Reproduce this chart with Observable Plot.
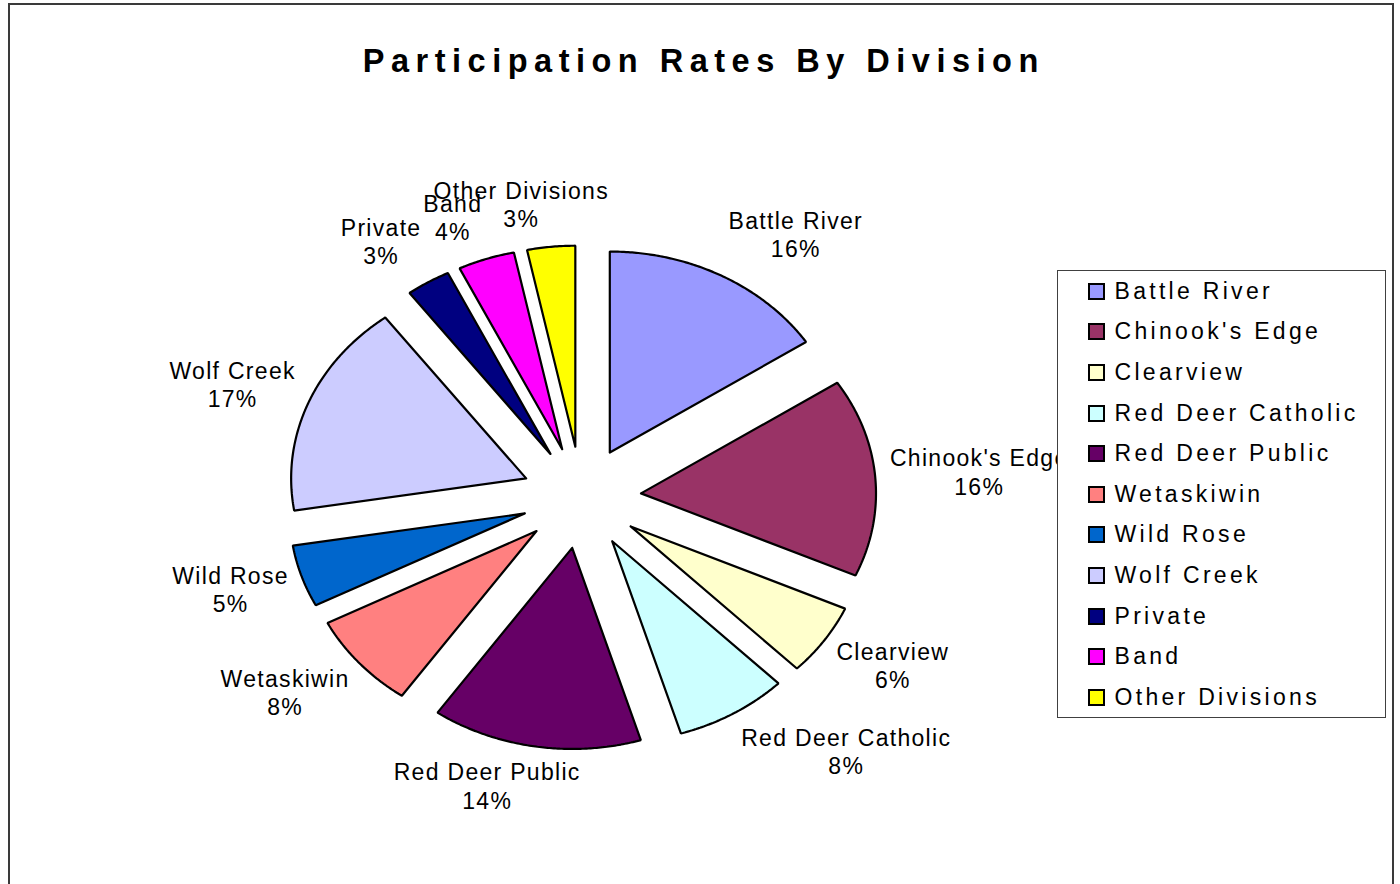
<!DOCTYPE html>
<html>
<head>
<meta charset="utf-8">
<script src="https://cdn.jsdelivr.net/npm/d3@7"></script>
<script src="https://cdn.jsdelivr.net/npm/@observablehq/plot@0.6"></script>
<style>
html,body{margin:0;padding:0;background:#fff;overflow:hidden;}
#wrap{position:relative;width:1400px;height:884px;overflow:hidden;font-family:"Liberation Sans",Arial,sans-serif;background:#fff;}
#chart{position:absolute;left:0;top:0;}
#chart svg text{letter-spacing:1.3px;}
#frame{position:absolute;left:8px;top:3px;width:1386px;height:940px;border:2px solid #3a3a3a;box-sizing:border-box;pointer-events:none;}
#legend{position:absolute;left:1057px;top:270px;width:329px;height:448px;box-sizing:border-box;border:1.5px solid #404040;background:#fff;}
#legend .item{height:40.6px;display:flex;align-items:center;font-size:23px;letter-spacing:3.3px;color:#000;white-space:nowrap;}
#legend .sw{width:17px;height:17px;box-sizing:border-box;border:2px solid #000;margin-left:29.5px;margin-right:10px;flex:none;}
</style>
</head>
<body>
<div id="wrap">
  <div id="chart"></div>
  <div id="legend"></div>
  <div id="frame"></div>
</div>
<script>
// ---- data ----
const names = ["Battle River","Chinook's Edge","Clearview","Red Deer Catholic","Red Deer Public","Wetaskiwin","Wild Rose","Wolf Creek","Private","Band","Other Divisions"];
const values = [15.75,16.0,5.8,7.8,14.45,7.75,5.0,17.35,3.05,3.9,3.3];
const colors = ["#9999FF","#993366","#FFFFCC","#CCFFFF","#660066","#FF8080","#0066CC","#CCCCFF","#000080","#FF00FF","#FFFF00"];
const title = "Participation Rates By Division";

// ---- layout constants ----
const W = 1400, H = 884;
const CX = 581, CY = 497;   // pie centre (px)
const PX = 235, PY = 201;   // px per radius unit (x, y)
const EXPLODE = 0.254;      // slice offset in radius units
const LABEL_R = 1.06;       // label anchor distance from slice apex
const LABEL_LIFT = 2;       // px
const FONT = "23px 'Liberation Sans', Arial, sans-serif";
const LS = 1.3;             // letter spacing
const BOX_H = 58;
const KX = 3.2, KY = 1.2;

const total = d3.sum(values);
const pct = d3.format(".0%");
const arcs = d3.pie().sort(null).value(d => d)(values);

const rows = [];
const labels = [];
const ctx = document.createElement("canvas").getContext("2d");
ctx.font = FONT;
const textW = s => ctx.measureText(s).width + LS * s.length;
const clamp = v => Math.max(-1, Math.min(1, v));

arcs.forEach((a, i) => {
  const mid = (a.startAngle + a.endAngle) / 2;
  const ox = EXPLODE * Math.sin(mid), oy = EXPLODE * Math.cos(mid);
  rows.push({name: names[i], x: ox, y: oy});
  const n = Math.max(2, Math.ceil((a.endAngle - a.startAngle) / (Math.PI / 360)));
  for (let k = 0; k <= n; k++) {
    const t = a.startAngle + (a.endAngle - a.startAngle) * k / n;
    rows.push({name: names[i], x: ox + Math.sin(t), y: oy + Math.cos(t)});
  }
  rows.push({name: names[i], x: ox, y: oy});
  const p = pct(values[i] / total);
  const w = Math.max(textW(names[i]), textW(p));
  const ax = ox + LABEL_R * Math.sin(mid), ay = oy + LABEL_R * Math.cos(mid);
  labels.push({
    text: names[i] + "\n" + p,
    x: ax + clamp(KX * Math.sin(mid)) * (w / 2) / PX,
    y: ay + clamp(KY * Math.cos(mid)) * (BOX_H / 2) / PY + LABEL_LIFT / PY
  });
});

const plot = Plot.plot({
  width: W,
  height: H,
  margin: 0,
  x: {domain: [-CX / PX, (W - CX) / PX], axis: null},
  y: {domain: [-(H - CY) / PY, CY / PY], axis: null},
  color: {domain: names, range: colors},
  style: {background: "transparent", fontFamily: "'Liberation Sans', Arial, sans-serif"},
  marks: [
    Plot.line(rows, {x: "x", y: "y", z: "name", fill: "name", stroke: "#000", strokeWidth: 2.2, strokeLinejoin: "miter", curve: "linear"}),
    Plot.text(labels, {x: "x", y: "y", text: "text", textAnchor: "middle", lineAnchor: "middle", lineHeight: 1.23, fontSize: 23, fill: "#000", dx: LS / 2}),
    Plot.text([title], {text: d => d, frameAnchor: "top", lineAnchor: "top", dy: 48, dx: 3.3, fontSize: 32.5, fontWeight: "bold", fill: "#000"})
  ]
});
d3.select(plot).selectAll("text").filter(function() { return this.textContent === title; }).style("letter-spacing", "6.5px");
document.getElementById("chart").appendChild(plot);

// legend
const leg = d3.select("#legend");
names.forEach((n, i) => {
  const it = leg.append("div").attr("class", "item");
  it.append("div").attr("class", "sw").style("background", colors[i]);
  it.append("span").text(n);
});
</script>
</body>
</html>
